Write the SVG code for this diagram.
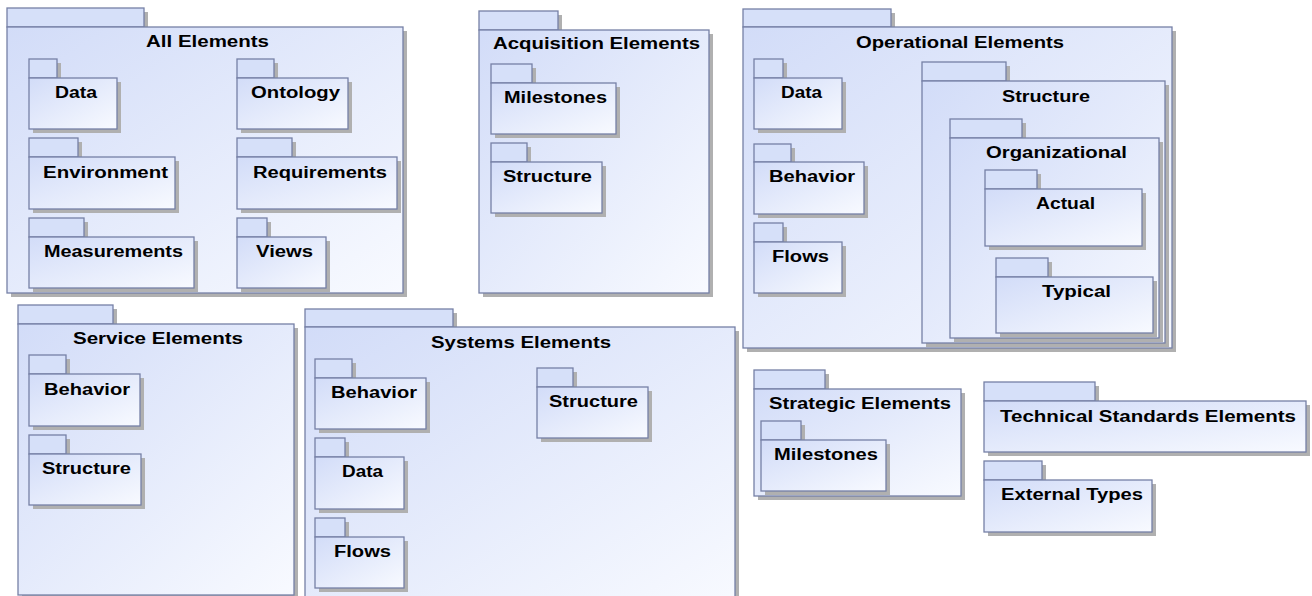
<svg xmlns="http://www.w3.org/2000/svg" width="1312" height="596" viewBox="0 0 1312 596">
<defs>
<linearGradient id="gb" x1="0" y1="0" x2="1" y2="1">
<stop offset="0" stop-color="#d2dcf8"/>
<stop offset="1" stop-color="#f8faff"/>
</linearGradient>
<style>
.sh{fill:#b0b0b0;stroke:none}
.tab{fill:#d6e0f9;stroke:#7680a6;stroke-width:1.3}
.bd{fill:url(#gb);stroke:#7680a6;stroke-width:1.3}
text{font-family:"Liberation Sans",Arial,sans-serif;font-weight:bold;font-size:16px;fill:#000}
</style>
</defs>
<rect width="1312" height="596" fill="#ffffff"/>

<g id="all-elements">
<rect class="sh" x="11" y="12" width="137" height="19"/><rect class="sh" x="11" y="31" width="396" height="266"/>
<rect class="tab" x="7" y="8" width="137" height="19"/><rect class="bd" x="7" y="27" width="396" height="266"/>
<text x="146" y="47" textLength="123" lengthAdjust="spacingAndGlyphs">All Elements</text>
<g id="all-data">
<rect class="sh" x="33" y="63" width="28" height="19"/><rect class="sh" x="33" y="82" width="88" height="51"/>
<rect class="tab" x="29" y="59" width="28" height="19"/><rect class="bd" x="29" y="78" width="88" height="51"/>
<text x="55" y="98" textLength="42" lengthAdjust="spacingAndGlyphs">Data</text></g>
<g id="all-ontology">
<rect class="sh" x="241" y="63" width="37" height="19"/><rect class="sh" x="241" y="82" width="111" height="51"/>
<rect class="tab" x="237" y="59" width="37" height="19"/><rect class="bd" x="237" y="78" width="111" height="51"/>
<text x="251" y="98" textLength="89" lengthAdjust="spacingAndGlyphs">Ontology</text></g>
<g id="all-environment">
<rect class="sh" x="33" y="142" width="49" height="19"/><rect class="sh" x="33" y="161" width="146" height="52"/>
<rect class="tab" x="29" y="138" width="49" height="19"/><rect class="bd" x="29" y="157" width="146" height="52"/>
<text x="43" y="178" textLength="125" lengthAdjust="spacingAndGlyphs">Environment</text></g>
<g id="all-requirements">
<rect class="sh" x="241" y="142" width="55" height="19"/><rect class="sh" x="241" y="161" width="160" height="52"/>
<rect class="tab" x="237" y="138" width="55" height="19"/><rect class="bd" x="237" y="157" width="160" height="52"/>
<text x="253" y="178" textLength="134" lengthAdjust="spacingAndGlyphs">Requirements</text></g>
<g id="all-measurements">
<rect class="sh" x="33" y="222" width="55" height="19"/><rect class="sh" x="33" y="241" width="165" height="51"/>
<rect class="tab" x="29" y="218" width="55" height="19"/><rect class="bd" x="29" y="237" width="165" height="51"/>
<text x="44" y="257" textLength="139" lengthAdjust="spacingAndGlyphs">Measurements</text></g>
<g id="all-views">
<rect class="sh" x="241" y="222" width="30" height="19"/><rect class="sh" x="241" y="241" width="89" height="51"/>
<rect class="tab" x="237" y="218" width="30" height="19"/><rect class="bd" x="237" y="237" width="89" height="51"/>
<text x="256" y="257" textLength="57" lengthAdjust="spacingAndGlyphs">Views</text></g>
</g>

<g id="acquisition-elements">
<rect class="sh" x="483" y="15" width="79" height="19"/><rect class="sh" x="483" y="34" width="230" height="263"/>
<rect class="tab" x="479" y="11" width="79" height="19"/><rect class="bd" x="479" y="30" width="230" height="263"/>
<text x="493" y="49" textLength="207" lengthAdjust="spacingAndGlyphs">Acquisition Elements</text>
<g id="acq-milestones">
<rect class="sh" x="495" y="68" width="41" height="19"/><rect class="sh" x="495" y="87" width="125" height="51"/>
<rect class="tab" x="491" y="64" width="41" height="19"/><rect class="bd" x="491" y="83" width="125" height="51"/>
<text x="504" y="103" textLength="103" lengthAdjust="spacingAndGlyphs">Milestones</text></g>
<g id="acq-structure">
<rect class="sh" x="495" y="147" width="36" height="19"/><rect class="sh" x="495" y="166" width="111" height="51"/>
<rect class="tab" x="491" y="143" width="36" height="19"/><rect class="bd" x="491" y="162" width="111" height="51"/>
<text x="503" y="182" textLength="89" lengthAdjust="spacingAndGlyphs">Structure</text></g>
</g>

<g id="operational-elements">
<rect class="sh" x="747" y="13" width="148" height="18"/><rect class="sh" x="747" y="31" width="429" height="321"/>
<rect class="tab" x="743" y="9" width="148" height="18"/><rect class="bd" x="743" y="27" width="429" height="321"/>
<text x="856" y="48" textLength="208" lengthAdjust="spacingAndGlyphs">Operational Elements</text>
<g id="op-data">
<rect class="sh" x="758" y="63" width="29" height="19"/><rect class="sh" x="758" y="82" width="88" height="51"/>
<rect class="tab" x="754" y="59" width="29" height="19"/><rect class="bd" x="754" y="78" width="88" height="51"/>
<text x="781" y="98" textLength="41" lengthAdjust="spacingAndGlyphs">Data</text></g>
<g id="op-behavior">
<rect class="sh" x="758" y="148" width="37" height="18"/><rect class="sh" x="758" y="166" width="110" height="52"/>
<rect class="tab" x="754" y="144" width="37" height="18"/><rect class="bd" x="754" y="162" width="110" height="52"/>
<text x="769" y="182" textLength="86" lengthAdjust="spacingAndGlyphs">Behavior</text></g>
<g id="op-flows">
<rect class="sh" x="758" y="227" width="29" height="19"/><rect class="sh" x="758" y="246" width="88" height="51"/>
<rect class="tab" x="754" y="223" width="29" height="19"/><rect class="bd" x="754" y="242" width="88" height="51"/>
<text x="772" y="262" textLength="57" lengthAdjust="spacingAndGlyphs">Flows</text></g>
<g id="op-structure">
<rect class="sh" x="926" y="66" width="84" height="19"/><rect class="sh" x="926" y="85" width="243" height="262"/>
<rect class="tab" x="922" y="62" width="84" height="19"/><rect class="bd" x="922" y="81" width="243" height="262"/>
<text x="1002" y="102" textLength="88" lengthAdjust="spacingAndGlyphs">Structure</text>
<g id="op-organizational">
<rect class="sh" x="954" y="123" width="72" height="19"/><rect class="sh" x="954" y="142" width="209" height="200"/>
<rect class="tab" x="950" y="119" width="72" height="19"/><rect class="bd" x="950" y="138" width="209" height="200"/>
<text x="986" y="158" textLength="141" lengthAdjust="spacingAndGlyphs">Organizational</text>
<g id="op-actual">
<rect class="sh" x="989" y="174" width="52" height="19"/><rect class="sh" x="989" y="193" width="157" height="57"/>
<rect class="tab" x="985" y="170" width="52" height="19"/><rect class="bd" x="985" y="189" width="157" height="57"/>
<text x="1036" y="209" textLength="59" lengthAdjust="spacingAndGlyphs">Actual</text></g>
<g id="op-typical">
<rect class="sh" x="1000" y="262" width="52" height="19"/><rect class="sh" x="1000" y="281" width="157" height="56"/>
<rect class="tab" x="996" y="258" width="52" height="19"/><rect class="bd" x="996" y="277" width="157" height="56"/>
<text x="1042" y="297" textLength="69" lengthAdjust="spacingAndGlyphs">Typical</text></g>
</g>
</g>
</g>

<g id="service-elements">
<rect class="sh" x="22" y="309" width="95" height="19"/><rect class="sh" x="22" y="328" width="276" height="271"/>
<rect class="tab" x="18" y="305" width="95" height="19"/><rect class="bd" x="18" y="324" width="276" height="271"/>
<text x="73" y="344" textLength="170" lengthAdjust="spacingAndGlyphs">Service Elements</text>
<g id="svc-behavior">
<rect class="sh" x="33" y="359" width="37" height="19"/><rect class="sh" x="33" y="378" width="111" height="52"/>
<rect class="tab" x="29" y="355" width="37" height="19"/><rect class="bd" x="29" y="374" width="111" height="52"/>
<text x="44" y="395" textLength="86" lengthAdjust="spacingAndGlyphs">Behavior</text></g>
<g id="svc-structure">
<rect class="sh" x="33" y="439" width="37" height="19"/><rect class="sh" x="33" y="458" width="112" height="51"/>
<rect class="tab" x="29" y="435" width="37" height="19"/><rect class="bd" x="29" y="454" width="112" height="51"/>
<text x="42" y="474" textLength="89" lengthAdjust="spacingAndGlyphs">Structure</text></g>
</g>

<g id="systems-elements">
<rect class="sh" x="309" y="313" width="148" height="18"/><rect class="sh" x="309" y="331" width="430" height="280"/>
<rect class="tab" x="305" y="309" width="148" height="18"/><rect class="bd" x="305" y="327" width="430" height="280"/>
<text x="431" y="348" textLength="180" lengthAdjust="spacingAndGlyphs">Systems Elements</text>
<g id="sys-behavior">
<rect class="sh" x="319" y="363" width="37" height="19"/><rect class="sh" x="319" y="382" width="111" height="51"/>
<rect class="tab" x="315" y="359" width="37" height="19"/><rect class="bd" x="315" y="378" width="111" height="51"/>
<text x="331" y="398" textLength="86" lengthAdjust="spacingAndGlyphs">Behavior</text></g>
<g id="sys-data">
<rect class="sh" x="319" y="442" width="30" height="19"/><rect class="sh" x="319" y="461" width="89" height="52"/>
<rect class="tab" x="315" y="438" width="30" height="19"/><rect class="bd" x="315" y="457" width="89" height="52"/>
<text x="342" y="477" textLength="41" lengthAdjust="spacingAndGlyphs">Data</text></g>
<g id="sys-flows">
<rect class="sh" x="319" y="522" width="30" height="19"/><rect class="sh" x="319" y="541" width="89" height="51"/>
<rect class="tab" x="315" y="518" width="30" height="19"/><rect class="bd" x="315" y="537" width="89" height="51"/>
<text x="334" y="557" textLength="57" lengthAdjust="spacingAndGlyphs">Flows</text></g>
<g id="sys-structure">
<rect class="sh" x="541" y="372" width="36" height="19"/><rect class="sh" x="541" y="391" width="111" height="51"/>
<rect class="tab" x="537" y="368" width="36" height="19"/><rect class="bd" x="537" y="387" width="111" height="51"/>
<text x="549" y="407" textLength="89" lengthAdjust="spacingAndGlyphs">Structure</text></g>
</g>

<g id="strategic-elements">
<rect class="sh" x="758" y="374" width="71" height="19"/><rect class="sh" x="758" y="393" width="207" height="107"/>
<rect class="tab" x="754" y="370" width="71" height="19"/><rect class="bd" x="754" y="389" width="207" height="107"/>
<text x="769" y="409" textLength="182" lengthAdjust="spacingAndGlyphs">Strategic Elements</text>
<g id="strat-milestones">
<rect class="sh" x="765" y="425" width="40" height="19"/><rect class="sh" x="765" y="444" width="125" height="51"/>
<rect class="tab" x="761" y="421" width="40" height="19"/><rect class="bd" x="761" y="440" width="125" height="51"/>
<text x="774" y="460" textLength="104" lengthAdjust="spacingAndGlyphs">Milestones</text></g>
</g>

<g id="technical-standards-elements">
<rect class="sh" x="988" y="386" width="111" height="19"/><rect class="sh" x="988" y="405" width="322" height="51"/>
<rect class="tab" x="984" y="382" width="111" height="19"/><rect class="bd" x="984" y="401" width="322" height="51"/>
<text x="1000" y="422" textLength="296" lengthAdjust="spacingAndGlyphs">Technical Standards Elements</text>
</g>

<g id="external-types">
<rect class="sh" x="988" y="465" width="58" height="19"/><rect class="sh" x="988" y="484" width="168" height="52"/>
<rect class="tab" x="984" y="461" width="58" height="19"/><rect class="bd" x="984" y="480" width="168" height="52"/>
<text x="1001" y="500" textLength="142" lengthAdjust="spacingAndGlyphs">External Types</text>
</g>

<g id="connectors"/>
</svg>
